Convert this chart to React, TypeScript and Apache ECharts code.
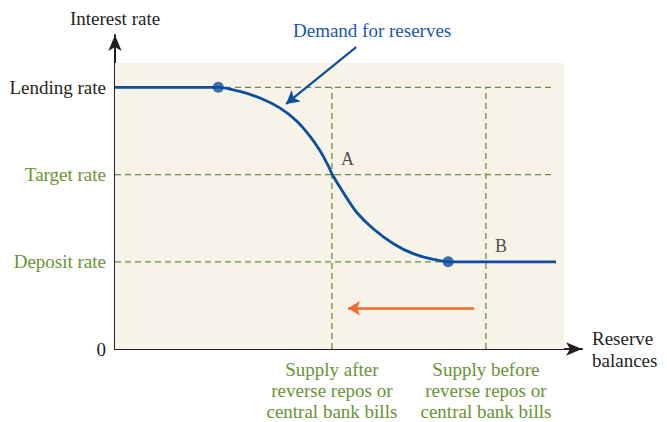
import React, { useEffect, useRef } from "react";
import * as echarts from "echarts";

// Demand curve for reserves (x: reserve balances, y: interest rate levels)
const demandCurve: [number, number][] = [
  [0, 3.0], [23.0, 3.0], [27.8, 2.953], [32.3, 2.878], [36.7, 2.764], [40.5, 2.612],
  [43.4, 2.441], [45.7, 2.27], [47.5, 2.099], [48.4, 2.0], [50.8, 1.796],
  [53.8, 1.568], [57.5, 1.378], [62.0, 1.207], [66.4, 1.093], [70.9, 1.028],
  [74.2, 1.0], [98.2, 1.0],
];
const curveDots: [number, number][] = [[23.0, 3.0], [74.2, 1.0]];
const rateLevels = [0, 1, 2, 3];
const rateLabels = ["0", "Deposit rate", "Target rate", "Lending rate"];
const rateLabelGreen = [false, true, true, false];
const supplyPositions = [48.3, 82.6];
const supplyLabels = [
  "Supply after\nreverse repos or\ncentral bank bills",
  "Supply before\nreverse repos or\ncentral bank bills",
];
const dashedEnd = 98.0;
const bgExtent: [number, number] = [100, 3.28];
const shiftArrow: [[number, number], [number, number]] = [[80.0, 0.467], [51.9, 0.467]];
const pointerArrow: [[number, number], [number, number]] = [[53.7, 3.46], [38.1, 2.81]];
const pointA: [number, number] = [48.3, 2.0];
const pointB: [number, number] = [82.6, 1.0];

const GREEN = "#6b9234";
const BLUE = "#0d4f9e";
const DARK = "#231f20";
const ORANGE = "#f26a2c";
const FONT = "'Liberation Serif', 'DejaVu Serif', serif";

export default function App() {
  const ref = useRef<HTMLDivElement>(null);
  useEffect(() => {
    if (!ref.current) return;
    const chart = echarts.init(ref.current, undefined, { renderer: "svg" });
    const dashStyle = { color: GREEN, width: 1.3, type: [6, 4] as number[] };
    const hLines = rateLevels.slice(1).map((lv) => ({
      type: "line",
      data: [[0, lv], [dashedEnd, lv]],
      symbol: "none",
      lineStyle: dashStyle,
      silent: true,
      z: 2,
    }));
    const vLines = supplyPositions.map((xv) => ({
      type: "line",
      data: [[xv, 0], [xv, 3]],
      symbol: "none",
      lineStyle: dashStyle,
      silent: true,
      z: 2,
    }));
    chart.setOption({
      animation: false,
      textStyle: { fontFamily: FONT },
      grid: { left: 115, top: 35, right: 85, bottom: 71 },
      xAxis: {
        type: "value",
        min: 0,
        max: 104,
        splitLine: { show: false },
        axisTick: { show: false },
        axisLine: {
          onZero: false,
          lineStyle: { color: DARK, width: 2 },
          symbol: ["none", "arrow"],
          symbolSize: [10, 16],
        },
        axisLabel: {
          customValues: supplyPositions,
          formatter: (v: number) => {
            const i = supplyPositions.findIndex((p) => Math.abs(p - v) < 1e-6);
            return i >= 0 ? supplyLabels[i] : "";
          },
          color: GREEN,
          fontSize: 19,
          lineHeight: 21,
          margin: 10,
          fontFamily: FONT,
        },
        name: "Reserve\nbalances",
        nameLocation: "end",
        nameGap: 10,
        nameTextStyle: {
          color: DARK,
          fontSize: 19,
          lineHeight: 22,
          align: "left",
          verticalAlign: "middle",
          padding: [16, 0, 0, 0],
          fontFamily: FONT,
        },
      },
      yAxis: {
        type: "value",
        min: 0,
        max: 3.6,
        splitLine: { show: false },
        axisTick: { show: false },
        axisLine: {
          onZero: false,
          lineStyle: { color: DARK, width: 2 },
          symbol: ["none", "arrow"],
          symbolSize: [10, 16],
        },
        axisLabel: {
          customValues: rateLevels,
          formatter: (v: number) => {
            const i = rateLevels.indexOf(Math.round(v));
            if (i < 0 || Math.abs(v - Math.round(v)) > 1e-6) return "";
            return `{${rateLabelGreen[i] ? "g" : "k"}|${rateLabels[i]}}`;
          },
          margin: 9,
          rich: {
            g: { color: GREEN, fontSize: 19, fontFamily: FONT },
            k: { color: DARK, fontSize: 19, fontFamily: FONT },
          },
        },
        name: "Interest rate",
        nameLocation: "end",
        nameGap: 7,
        nameTextStyle: { color: DARK, fontSize: 19, align: "center", fontFamily: FONT },
      },
      series: [
        {
          type: "line",
          data: [],
          silent: true,
          markArea: {
            silent: true,
            itemStyle: { color: "#f7f3e9" },
            data: [[{ coord: [0, 0] }, { coord: bgExtent }]],
          },
          z: 1,
        },
        ...hLines,
        ...vLines,
        {
          type: "line",
          data: demandCurve,
          smooth: 0.3,
          symbol: "none",
          lineStyle: { color: BLUE, width: 2.8 },
          z: 5,
        },
        {
          type: "scatter",
          data: curveDots,
          symbolSize: 11,
          itemStyle: { color: BLUE },
          z: 6,
        },
        {
          type: "scatter",
          data: [
            { value: pointA, label: { formatter: "A" } },
            { value: pointB, label: { formatter: "B" } },
          ],
          symbolSize: 0,
          label: {
            show: true,
            position: "right",
            offset: [4, -16],
            color: DARK,
            fontSize: 18,
            fontFamily: FONT,
          },
          z: 6,
        },
        {
          type: "line",
          data: [],
          markLine: {
            silent: true,
            symbol: ["none", "arrow"],
            symbolSize: [11, 12],
            label: { show: false },
            lineStyle: { color: ORANGE, width: 2.5, type: "solid" },
            data: [[{ coord: shiftArrow[0] }, { coord: shiftArrow[1] }]],
          },
          z: 6,
        },
        {
          type: "line",
          data: [],
          markLine: {
            silent: true,
            symbol: ["none", "arrow"],
            symbolSize: [11, 13],
            label: { show: false },
            lineStyle: { color: BLUE, width: 2.2, type: "solid" },
            data: [[{ coord: pointerArrow[0] }, { coord: pointerArrow[1] }]],
          },
          z: 6,
        },
      ],
      graphic: [
        {
          type: "text",
          left: 293,
          top: 21,
          style: {
            text: "Demand for reserves",
            fill: "#1a57a8",
            font: `19px ${FONT}`,
          },
        },
      ],
    });
    return () => chart.dispose();
  }, []);
  return (
    <div
      ref={ref}
      style={{ position: "absolute", left: 0, top: 0, width: 667, height: 422, background: "#fff" }}
    />
  );
}
